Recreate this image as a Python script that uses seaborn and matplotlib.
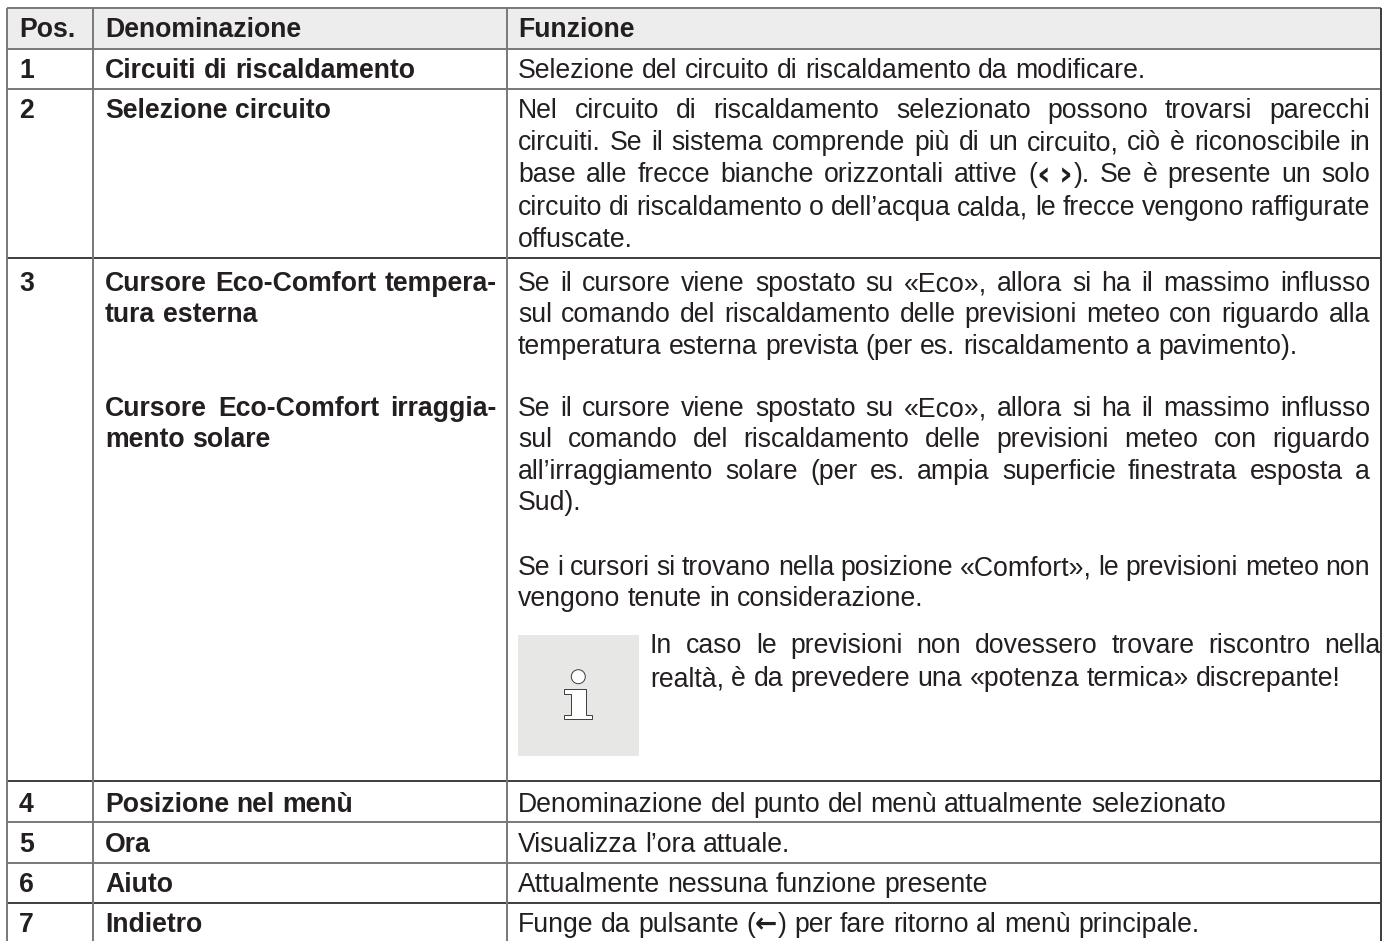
import math
import re
import matplotlib.pyplot as plt
from matplotlib.patches import Circle, Rectangle
import seaborn as sns

sns.set_theme(style='white')
plt.rcParams['font.family'] = ['Liberation Sans', 'DejaVu Sans']

# table text
headers = ['Pos.', 'Denominazione', 'Funzione']
positions = ['1', '2', '3', '4', '5', '6', '7']
names = [
    'Circuiti di riscaldamento',
    'Selezione circuito',
    'Cursore Eco-Comfort tempera-',
    'tura esterna',
    'Cursore Eco-Comfort irraggia-',
    'mento solare',
    'Posizione nel menù',
    'Ora',
    'Aiuto',
    'Indietro',
]
functions = [
    'Selezione del circuito di riscaldamento da modificare.',
    'Nel circuito di riscaldamento selezionato possono trovarsi parecchi',
    'circuiti. Se il sistema comprende più di un circuito, ciò è riconoscibile in',
    'base alle frecce bianche orizzontali attive (‹\u00a0›). Se è presente un solo',
    'circuito di riscaldamento o dell’acqua calda, le frecce vengono raffigurate',
    'offuscate.',
    'Se il cursore viene spostato su «Eco», allora si ha il massimo influsso',
    'sul comando del riscaldamento delle previsioni meteo con riguardo alla',
    'temperatura esterna prevista (per es. riscaldamento a pavimento).',
    'Se il cursore viene spostato su «Eco», allora si ha il massimo influsso',
    'sul comando del riscaldamento delle previsioni meteo con riguardo',
    'all’irraggiamento solare (per es. ampia superficie finestrata esposta a',
    'Sud).',
    'Se i cursori si trovano nella posizione «Comfort», le previsioni meteo non',
    'vengono tenute in considerazione.',
    'Denominazione del punto del menù attualmente selezionato',
    'Visualizza l’ora attuale.',
    'Attualmente nessuna funzione presente',
    'Funge da pulsante (←) per fare ritorno al menù principale.',
]
note_lines = [
    'In caso le previsioni non dovessero trovare riscontro nella',
    'realtà, è da prevedere una «potenza termica» discrepante!',
]

# layout in pixels of the page
W, H = 1392, 941
FS = 19.2
TEXT = '#231f20'
GREY = '#77787a'
DARK = '#3c3c3e'
col_x = [7, 93, 507, 1381]
row_y = [8, 49, 89, 258, 781, 822, 863, 903]
dark_rows = [258, 781, 903]
pos_base = [78, 118, 291, 812, 852, 892, 932]
name_base = [78, 118, 291, 322, 416, 447, 812, 852, 892, 932]
name_just = [False, False, True, False, True, False, False, False, False, False]
func_base = [78, 118, 150, 182, 215, 247, 291, 322, 354, 416, 447, 479, 510,
             575, 606, 812, 852, 892, 932]
func_just = [False, True, True, True, True, False, True, True, False, True, True,
             True, False, True, False, False, False, False, False]

fig = plt.figure(figsize=(W / 100, H / 100), dpi=100)
ax = fig.add_axes([0, 0, 1, 1])
ax.set_xlim(0, W)
ax.set_ylim(H, 0)
ax.axis('off')
sns.despine(ax=ax, left=True, bottom=True)
renderer = fig.canvas.get_renderer()


def put(x, y, s, weight='normal'):
    # chevrons and arrow come from DejaVu, its bold ones are heavy enough
    if s in '‹›':
        return ax.text(x, y + 3, s, fontsize=FS * 1.25, fontweight='bold', color=TEXT,
                       family='DejaVu Sans', ha='left', va='baseline')
    family = 'DejaVu Sans' if s == '←' else ['Liberation Sans', 'DejaVu Sans']
    t = ax.text(x, y, s, fontsize=FS, fontweight=weight, color=TEXT,
                family=family, ha='left', va='baseline')
    # agg rounds baseline plus descent, so take out the fraction of the descent
    d = renderer.get_text_width_height_descent(s, t.get_fontproperties(), False)[2]
    t.set_y(y + math.ceil(d) - d + 0.01)
    return t


def ink_width(s, weight):
    t = put(0, 0, s, weight)
    w = t.get_window_extent(renderer).width
    t.remove()
    return w


def width_of(s, weight='normal'):
    if s == '\u00a0':
        return 7
    if s in '‹›←':
        return ink_width(s, 'bold') + 1
    # the x on both sides keeps the side bearings of the word in the measure
    return ink_width('x' + s + 'x', weight) - ink_width('xx', weight)


def word_parts(word, weight):
    # the arrow signs are bold, the rest of the word keeps the line's weight
    parts = [p for p in re.split('([‹›←\u00a0])', word) if p]
    return [(p, 'bold' if p in '‹›←' else weight) for p in parts]


def draw_line(x0, x1, y, s, weight='normal', justify=False):
    words = s.split(' ')
    widths = [sum(width_of(p, w) for p, w in word_parts(word, weight)) for word in words]
    space = width_of(' ', weight)
    if justify and len(words) > 1:
        space = (x1 - x0 - sum(widths)) / (len(words) - 1)
    x = x0
    for word, ww in zip(words, widths):
        px = x
        for p, w in word_parts(word, weight):
            if p != '\u00a0':
                put(px, y, p, w)
            px += width_of(p, w)
        x += ww + space


# header band
ax.add_patch(Rectangle((col_x[0], row_y[0]), col_x[3] - col_x[0], row_y[1] - row_y[0],
                       facecolor='#ededed', edgecolor='none', zorder=0))

# rules
for y in row_y:
    color = DARK if y in dark_rows else GREY
    ax.plot([col_x[0], col_x[3]], [y, y], color=color, lw=1.4, solid_capstyle='butt', zorder=1)
for x in col_x:
    ax.plot([x, x], [row_y[0], H], color=DARK if x == 1381 else GREY, lw=1.4,
            solid_capstyle='butt', zorder=1)

# text
for x, s in zip([19, 105, 518], headers):
    put(x, 37, s, 'bold')
for s, y in zip(positions, pos_base):
    put(19, y, s, 'bold')
for s, y, j in zip(names, name_base, name_just):
    draw_line(105, 497, y, s, 'bold', j)
for s, y, j in zip(functions, func_base, func_just):
    draw_line(518, 1370, y, s, justify=j)
draw_line(650, 1380, 653, note_lines[0], justify=True)
draw_line(650, 1380, 686, note_lines[1])

# info icon
ax.add_patch(Rectangle((518, 635), 121, 121, facecolor='#e7e8e6', edgecolor='none', zorder=0))
ax.add_patch(Circle((578.3, 676.7), 7, facecolor='white', edgecolor='#3c3c3e', lw=0.7))
ax.fill([564.3, 586, 586, 592.3, 592.3, 564.3, 564.3, 571, 571, 564.3],
        [689.3, 689.3, 715, 715, 719.3, 719.3, 715, 715, 694, 694],
        facecolor='white', edgecolor='#3c3c3e', lw=0.7)

fig.savefig('out.png', dpi=100)
